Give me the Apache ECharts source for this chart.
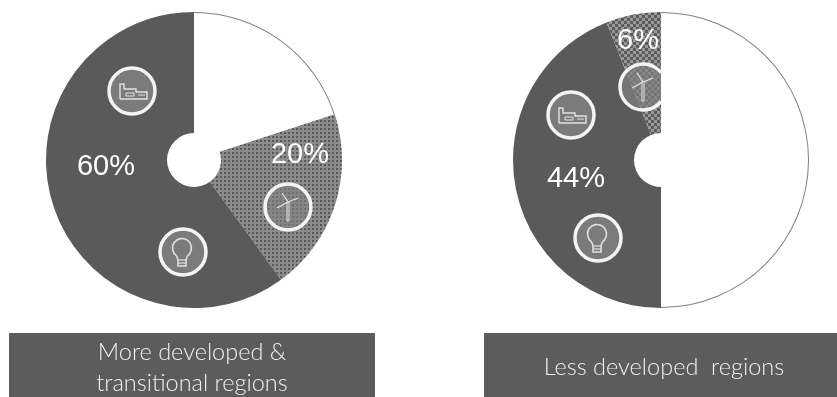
<!DOCTYPE html>
<html>
<head>
<meta charset="utf-8">
<style>html,body{margin:0;padding:0;background:#fff}#chart{width:837px;height:397px}</style>
<script src="https://cdn.jsdelivr.net/npm/echarts@6/dist/echarts.min.js"></script>
</head>
<body>
<div id="chart"></div>
<script>
// Shares of each region group, clockwise from twelve o'clock
const leftSlices = ['Not allocated', 'Wind', 'Industry and lighting'];
const leftValues = [20, 20, 60];
const rightSlices = ['Not allocated', 'Industry and lighting', 'Wind'];
const rightValues = [50, 44, 6];
const leftCaption = 'More developed &\ntransitional regions';
const rightCaption = 'Less developed  regions';

const DARK = '#5a5a5a';
const FONT = '"Liberation Sans", Arial, sans-serif';

// Repeating tile of square dots for the textured wedges; stagger offsets every other row
function dots(period, size, bg, fg, stagger) {
  const c = document.createElement('canvas');
  c.width = period;
  c.height = period;
  const g = c.getContext('2d');
  g.fillStyle = bg; g.fillRect(0, 0, period, period);
  g.fillStyle = fg; g.fillRect(0, 0, size, size);
  if (stagger) g.fillRect(period / 2, period / 2, size, size);
  return { image: c, repeat: 'repeat' };
}

// One doughnut plus a hairline that runs only along the white slice's rim
function donut(center, names, values, colors, labelSpots) {
  const data = names.map((n, i) => ({ name: n, value: values[i], itemStyle: { color: colors[i] } }));
  return [{
    type: 'pie', center, radius: [27, 148], startAngle: 90, clockwise: true,
    silent: true, animation: false, z: 1,
    data,
    label: {
      show: true, position: 'inside', color: '#fff',
      fontFamily: FONT, fontWeight: 400, fontSize: 29,
      formatter: p => labelSpots[p.dataIndex] ? p.value + '%' : ''
    },
    labelLine: { show: false },
    labelLayout: p => {
      const s = labelSpots[p.dataIndex];
      return s ? { x: s[0], y: s[1], align: 'center', verticalAlign: 'middle' } : {};
    }
  }, {
    type: 'pie', center, radius: [147, 148], startAngle: 90, clockwise: true,
    silent: true, animation: false, z: 1,
    label: { show: false }, labelLine: { show: false },
    data: names.map((n, i) => ({
      name: n, value: values[i],
      itemStyle: { color: i === 0 ? '#808080' : 'rgba(0,0,0,0)' }
    }))
  }];
}

const ICON_LINE = '#e2e2e2';
const lineEl = (points, w) => ({
  type: 'polyline', z: 12, silent: true,
  shape: { points },
  style: { stroke: ICON_LINE, lineWidth: w || 1.4, fill: null }
});
const shift = (cx, cy, pts) => pts.map(p => [cx + p[0], cy + p[1]]);

function badge(cx, cy, fill) {
  return { type: 'circle', z: 10, silent: true, shape: { cx, cy, r: 23 },
    style: { fill, stroke: '#f4f4f4', lineWidth: 3.5 } };
}

function factory(cx, cy) {
  return [
    badge(cx, cy, '#7b7b7b'),
    lineEl(shift(cx, cy, [[-12, 8], [-12, -7], [-8, -7], [-8, -2], [4, -2], [4, 1], [15, 1], [15, 8], [-12, 8]])),
    lineEl(shift(cx, cy, [[-6, 2], [2, 2], [2, 5], [-6, 5], [-6, 2]]), 1),
    lineEl(shift(cx, cy, [[6, 4], [13, 4]]), 1)
  ];
}

function bulb(cx, cy) {
  return [
    badge(cx, cy, '#7b7b7b'),
    { type: 'arc', z: 12, silent: true,
      shape: { cx: cx - 1, cy: cy - 4, r: 9.5, startAngle: 125 * Math.PI / 180, endAngle: 55 * Math.PI / 180, clockwise: true },
      style: { stroke: ICON_LINE, lineWidth: 1.6, fill: null } },
    lineEl(shift(cx, cy, [[-6.5, 3.8], [-5, 8], [-5, 14], [3, 14], [3, 8], [4.5, 3.8]]), 1.5),
    lineEl(shift(cx, cy, [[-5, 8], [3, 8]]), 1.2),
    lineEl(shift(cx, cy, [[-5, 11], [3, 11]]), 1.2)
  ];
}

function turbineMark(cx, cy) {
  return [
    lineEl(shift(cx, cy, [[-1, -5], [-1, 14], [1, 14], [1, -5]]), 1),
    lineEl(shift(cx, cy, [[0, -5], [-6, -14]]), 1.3),
    lineEl(shift(cx, cy, [[0, -5], [10, -9]]), 1.3),
    lineEl(shift(cx, cy, [[0, -5], [-11, 1]]), 1.3)
  ];
}

// Badge cut off by a vertical chord where it meets the white half
function clippedBadge(cx, cy, chordX) {
  const r = 23, a = Math.acos((chordX - cx) / r);
  return { type: 'arc', z: 10, silent: true,
    shape: { cx, cy, r, startAngle: a, endAngle: 2 * Math.PI - a, clockwise: true },
    style: { fill: 'rgba(128,128,128,0.7)', stroke: '#f4f4f4', lineWidth: 3.5 } };
}

function captionBox(x, w, text, cy, textX) {
  return [
    { type: 'rect', z: 5, silent: true, shape: { x, y: 333, width: w, height: 64 }, style: { fill: '#5c5c5c' } },
    { type: 'text', z: 6, silent: true, x: textX, y: cy,
      style: { text, fill: '#f0f0f0', font: '300 23.5px Lato, "Open Sans", sans-serif',
        align: 'center', verticalAlign: 'middle', lineHeight: 31 } }
  ];
}

const chart = echarts.init(document.getElementById('chart'), null, { renderer: 'canvas' });
chart.setOption({
  backgroundColor: '#fff',
  animation: false,
  series: [
    ...donut([194, 160], leftSlices, leftValues,
      ['#ffffff', dots(4, 2, '#8c8c8c', '#585858', false), DARK],
      [null, [300, 155], [106, 167]]),
    ...donut([661, 160], rightSlices, rightValues,
      ['#ffffff', DARK, dots(6, 3, '#5c5c5c', '#989898', true)],
      [null, [576, 179], [638, 41]])
  ],
  graphic: { elements: [
    ...factory(132, 91),
    ...bulb(183, 252),
    { type: 'circle', z: 10, silent: true, shape: { cx: 288, cy: 207, r: 23 },
      style: { fill: 'rgba(128,128,128,0.6)', stroke: '#f4f4f4', lineWidth: 3.5 } },
    ...turbineMark(288, 207),
    ...factory(571, 115),
    ...bulb(598, 238),
    clippedBadge(643, 87, 661),
    ...turbineMark(643, 87),
    ...captionBox(9, 366, leftCaption, 368, 192),
    ...captionBox(484, 353, rightCaption, 367, 664)
  ] }
});
</script>
</body>
</html>
